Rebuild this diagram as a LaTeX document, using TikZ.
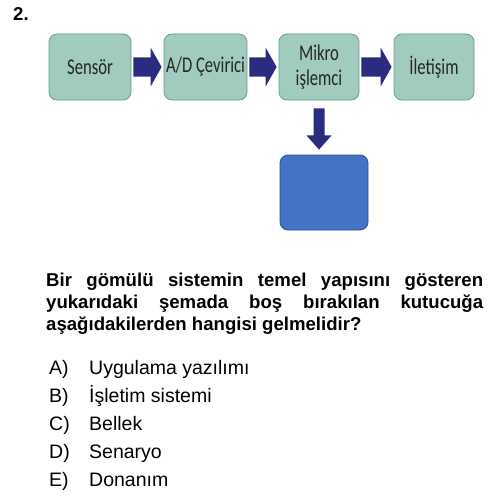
\documentclass[tikz,border=0pt]{standalone}
\usepackage{fontspec}
\setmainfont{Liberation Sans}
\newfontfamily\boxfont{Carlito}[FakeStretch=0.74]
\usetikzlibrary{calc}
\definecolor{boxfill}{HTML}{A0CBBE}
\definecolor{boxline}{HTML}{6A9C8E}
\definecolor{arrc}{HTML}{2A2C80}
\definecolor{bluefill}{HTML}{4472C4}
\definecolor{blueline}{HTML}{2F4F8F}
\tikzset{
  stagebox/.style={draw=boxline, line width=0.8pt, fill=boxfill, rounded corners=8pt,
    minimum height=66pt, inner sep=0pt, align=center,
    font=\boxfont\fontsize{22.5}{25}\selectfont, text=black!85},
  emptybox/.style={draw=blueline, line width=0.8pt, fill=bluefill, rounded corners=8pt,
    minimum width=88pt, minimum height=75pt, inner sep=0pt},
  qline/.style={anchor=base west, inner sep=0pt, font=\bfseries\fontsize{18.6}{22}\selectfont},
  optline/.style={anchor=base west, inner sep=0pt, font=\fontsize{19.5}{22}\selectfont},
  arrfill/.style={fill=arrc}
}
\newcommand\hArrow[2]{%
  \fill[arrfill] ($(#1.east)+(2,-9.5)$) -- ($(#2.west)+(-13,-9.5)$) -- ($(#2.west)+(-13,-19.5)$)
   -- ($(#2.west)+(-2,0)$) -- ($(#2.west)+(-13,19.5)$) -- ($(#2.west)+(-13,9.5)$)
   -- ($(#1.east)+(2,9.5)$) -- cycle;}
\begin{document}
\begin{tikzpicture}[x=1pt,y=-1pt]
\useasboundingbox[fill=white] (0,0) rectangle (500,495);
\node[qline] (num) at (13,21) {2.};
\node[stagebox, minimum width=82pt] (sensor) at (90,67) {Sensör};
\node[stagebox, minimum width=83pt] (ad) at (205.5,67) {A/D Çevirici};
\node[stagebox, minimum width=80pt] (mikro) at (319,67) {Mikro\\işlemci};
\node[stagebox, minimum width=80pt] (ilet) at (434,67) {İletişim};
\node[emptybox] (blank) at (324,192.5) {};
\hArrow{sensor}{ad}
\hArrow{ad}{mikro}
\hArrow{mikro}{ilet}
\fill[arrfill] ($(mikro.south)+(-5.5,8)$) -- ($(mikro.south)+(-5.5,35)$) -- ($(mikro.south)+(-12.5,35)$)
  -- ($(blank.north)+(-5,-5)$) -- ($(mikro.south)+(12.5,35)$) -- ($(mikro.south)+(5.5,35)$)
  -- ($(mikro.south)+(5.5,8)$) -- cycle;
\node[qline] (q1) at (46,286) {\makebox[437pt][s]{Bir gömülü sistemin temel yapısını gösteren}};
\node[qline] (q2) at (46,308) {\makebox[437pt][s]{yukarıdaki şemada boş bırakılan kutucuğa}};
\node[qline] (q3) at (46,330) {aşağıdakilerden hangisi gelmelidir?};
\node[optline] (la) at (49,374) {A)};
\node[optline] (ta) at (89,374) {Uygulama yazılımı};
\node[optline] (lb) at (49,402) {B)};
\node[optline] (tb) at (89,402) {İşletim sistemi};
\node[optline] (lc) at (49,430) {C)};
\node[optline] (tc) at (89,430) {Bellek};
\node[optline] (ld) at (49,458) {D)};
\node[optline] (td) at (89,458) {Senaryo};
\node[optline] (le) at (49,486) {E)};
\node[optline] (te) at (89,486) {Donanım};
\end{tikzpicture}
\end{document}
